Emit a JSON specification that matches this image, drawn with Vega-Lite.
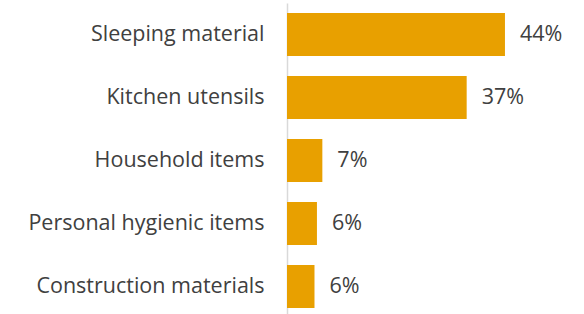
{
  "$schema": "https://vega.github.io/schema/vega-lite/v6.json",
  "autosize": "none",
  "width": 297,
  "height": 315,
  "padding": {"left": 287, "top": 3, "right": 0, "bottom": 0},
  "background": "white",
  "config": {"view": {"stroke": null}, "font": "Open Sans"},
  "data": {"values": [
    {"item": "Sleeping material", "pct": 0.444},
    {"item": "Kitchen utensils", "pct": 0.366},
    {"item": "Household items", "pct": 0.072},
    {"item": "Personal hygienic items", "pct": 0.061},
    {"item": "Construction materials", "pct": 0.056}
  ]},
  "encoding": {
    "y": {"field": "item", "type": "nominal", "sort": null,
      "scale": {"paddingInner": 0.32, "paddingOuter": 0.16},
      "axis": {"title": null, "ticks": false, "labelPadding": 23, "labelFontSize": 21.5,
        "labelColor": "#404040", "labelFont": "Open Sans", "domainColor": "#d9d9d9", "domainWidth": 1.5, "labelLimit": 300}},
    "x": {"field": "pct", "type": "quantitative", "scale": {"domain": [0, 0.605], "nice": false}, "axis": null}
  },
  "layer": [
    {"mark": {"type": "bar", "color": "#E8A000"}},
    {"mark": {"type": "text", "align": "left", "dx": 15, "fontSize": 21.5, "color": "#404040", "font": "Open Sans"},
     "encoding": {"text": {"field": "pct", "type": "quantitative", "format": ".0%"}}}
  ]
}
